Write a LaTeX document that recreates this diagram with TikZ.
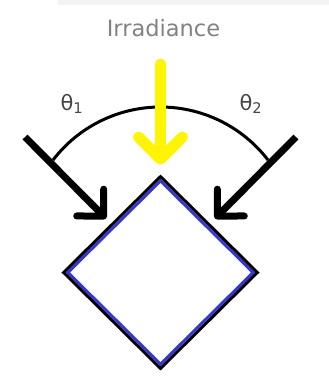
\documentclass[tikz,border=0pt]{standalone}
\usepackage{fontspec}
\setmainfont{DejaVu Sans}
\usetikzlibrary{arrows.meta}
\usetikzlibrary{shapes.geometric}
\usetikzlibrary{positioning}
\definecolor{sunyellow}{RGB}{255,245,0}
\definecolor{cellblue}{RGB}{55,55,205}
\definecolor{titlegray}{RGB}{130,130,130}
\definecolor{anglegray}{RGB}{70,70,70}
\definecolor{bandgray}{RGB}{243,243,243}
\tikzset{
  every picture/.style={font={\normalsize}, x=1pt, y=-1pt}}

\begin{document}
\begin{tikzpicture}[
    cell/.style={draw, diamond, inner sep=0pt, minimum width=195pt,
      minimum height=193pt, line width=3pt},
    ray/.style={line width=7pt,
      -{Straight Barb[length=19pt, width=38pt, round]}},
    sun/.style={draw=sunyellow, line width=11pt, line cap=round,
      -{Straight Barb[length=22pt, width=44pt, round]}},
    bow/.style={line width=3pt},
    angle/.style={text=anglegray, font={\fontsize{21}{24}\selectfont}}]

    \useasboundingbox (0,0) rectangle (329,381);
    \fill[bandgray] (58,0) rectangle (329,5);

    \node[text=titlegray, font={\fontsize{22.5}{27}\selectfont}] (title)
      at (163.5,28) {Irradiance};

    \begin{scope}
      \node[cell] (cell) at (160.5,272.5) {};
      \node[cell, draw=cellblue, line width=3pt, minimum width=186.5pt,
        minimum height=184.5pt] (cellin) at (cell.center) {};
    \end{scope}

    \coordinate (rayL) at (25,137);
    \coordinate (rayR) at (296,137);
    \coordinate (sunsrc) at (160.5,64);
    \coordinate (pivot) at (160.5,242.5);

    \draw[bow] (pivot) ++(142.5:135.5pt) arc[start angle=142.5,
      end angle=37.5, radius=135.5pt];

    \node[angle] (thetaL) at (72,104) {θ\textsubscript{1}};
    \node[angle] (thetaR) at (251,104) {θ\textsubscript{2}};

    \draw[ray, shorten >=7pt] (rayL) -- (cell.north west);
    \draw[ray, shorten >=7pt] (rayR) -- (cell.north east);
    \draw[sun, shorten >=10pt] (sunsrc) -- (cell.north);
  \end{tikzpicture}
\end{document}
